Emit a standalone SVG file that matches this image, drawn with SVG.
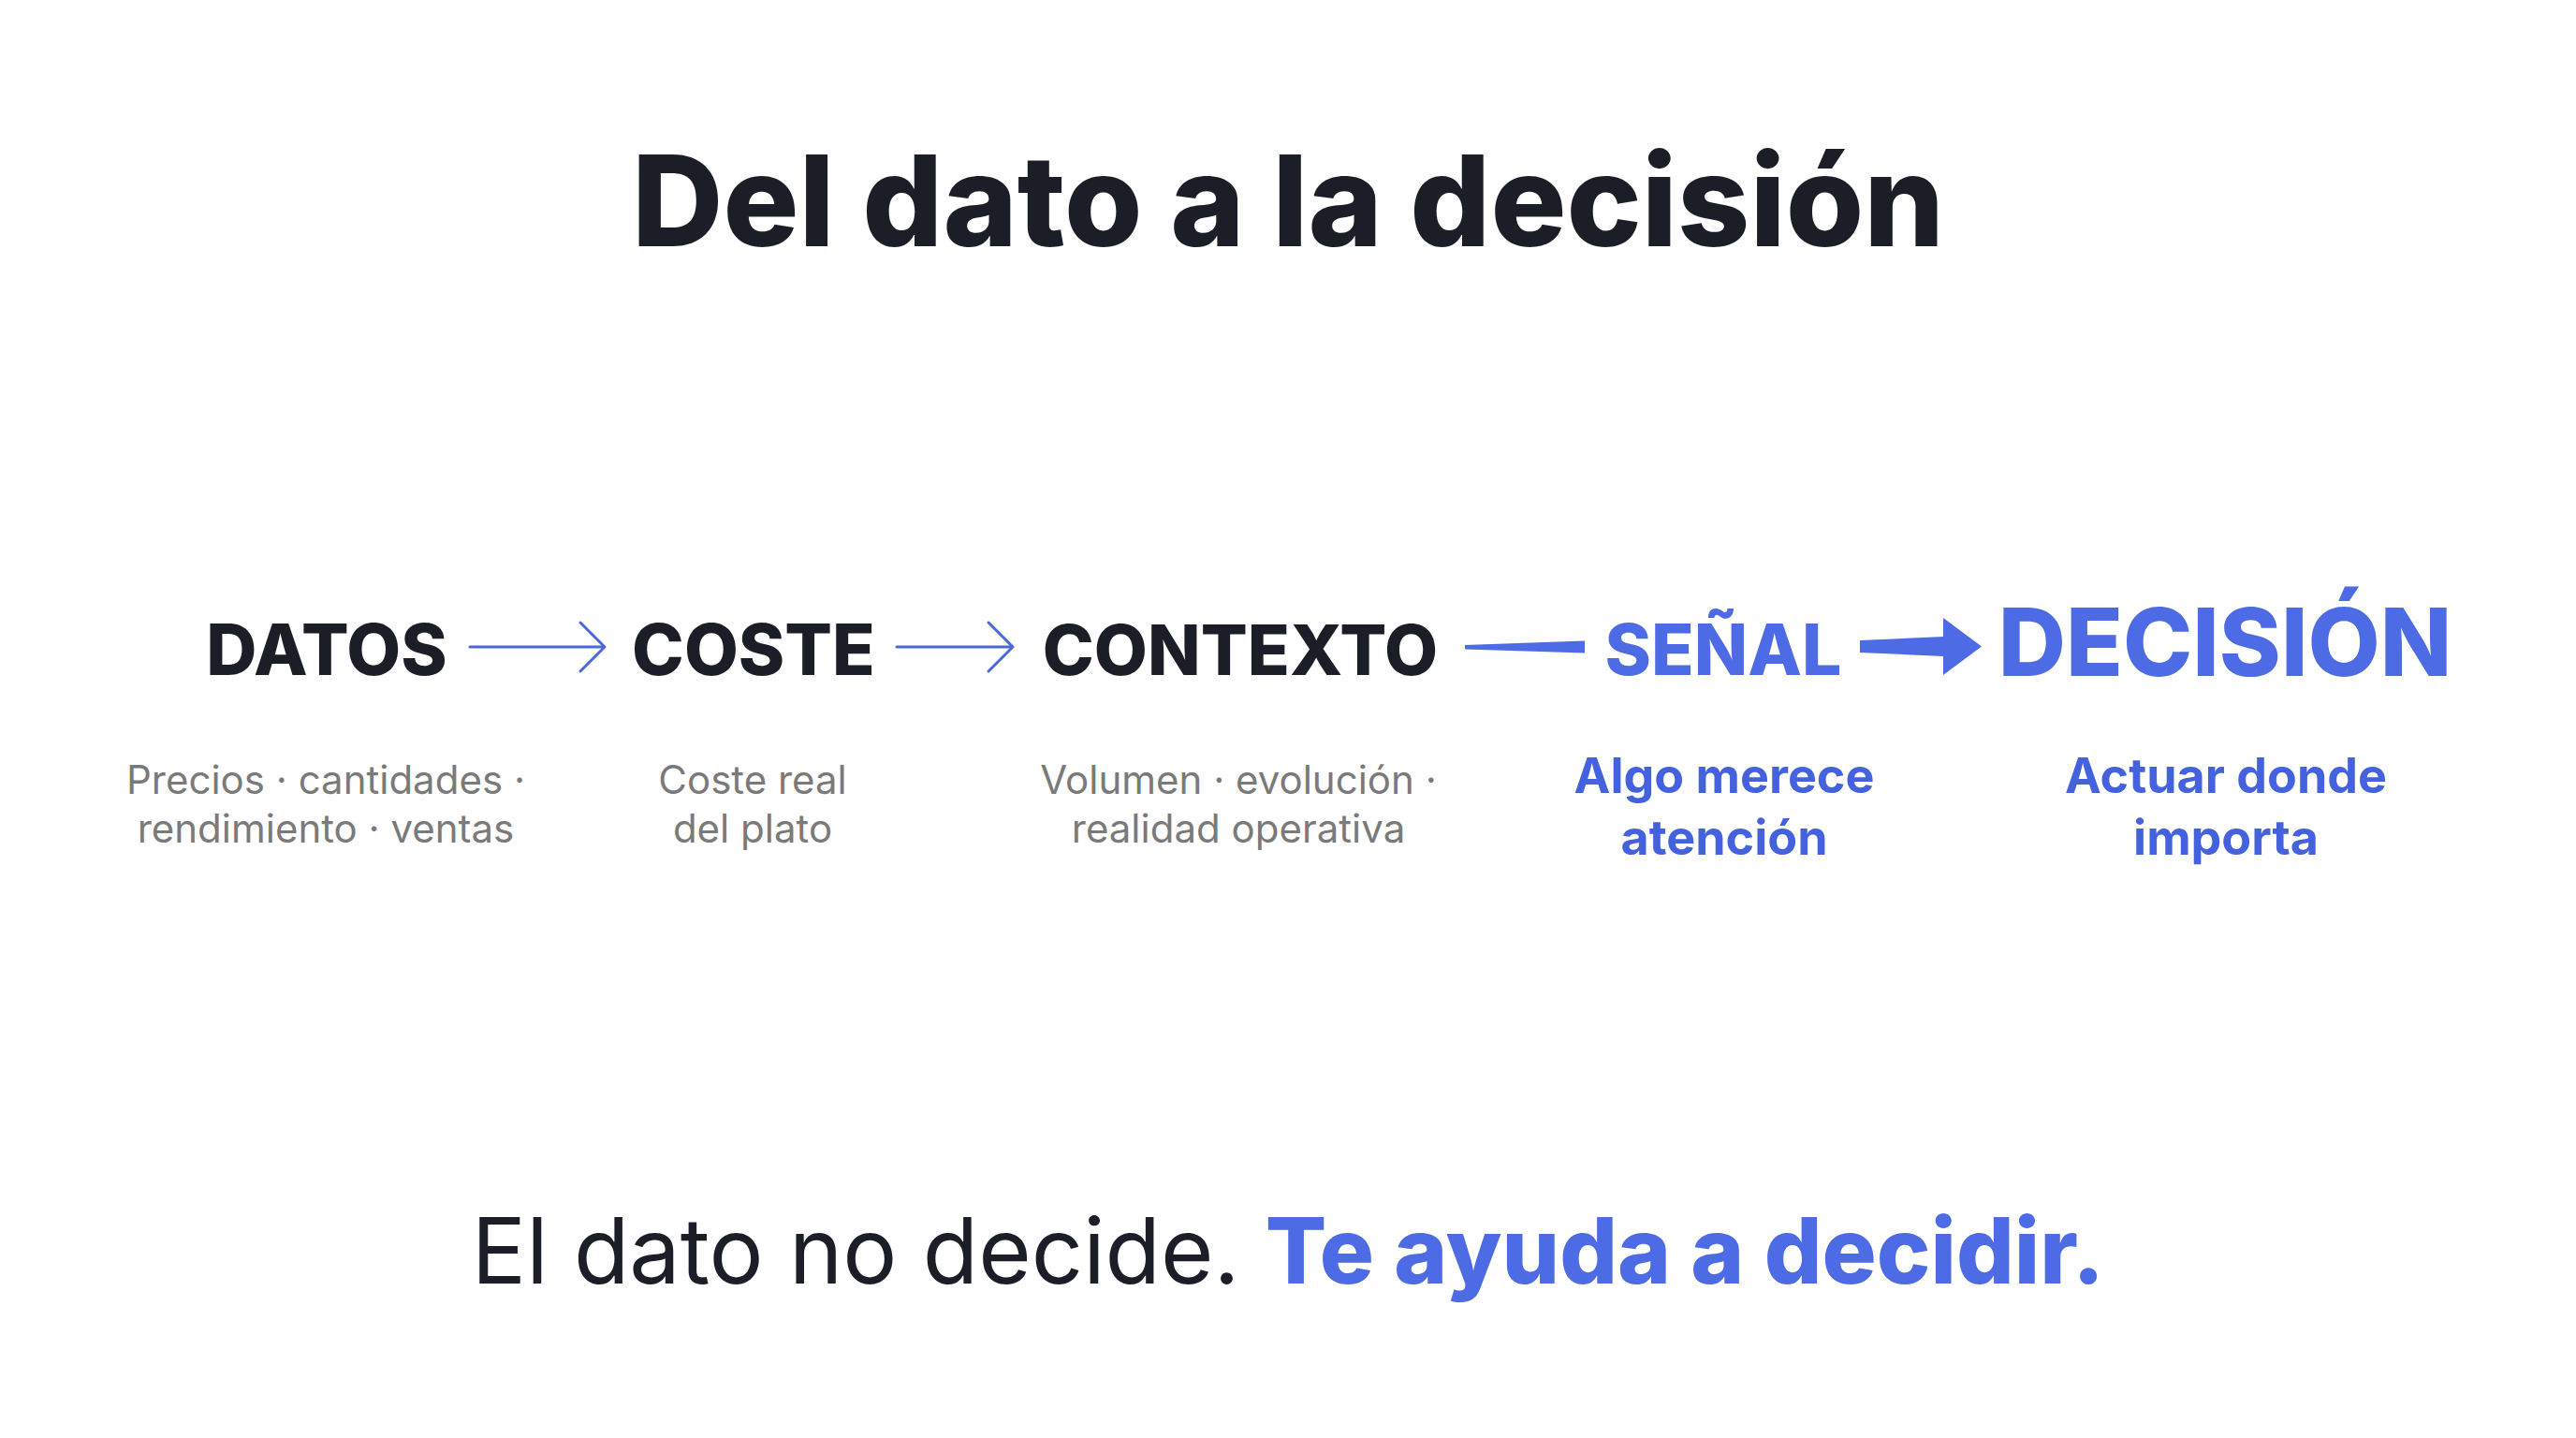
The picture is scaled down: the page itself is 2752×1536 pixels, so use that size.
<svg xmlns="http://www.w3.org/2000/svg" width="2752" height="1536" viewBox="0 0 2752 1536">
<style>
.t{font-family:Inter,"Noto Sans","Liberation Sans",sans-serif;text-anchor:middle}
.dark{fill:#1b1e27}
.blue{fill:#4d6be4}
.head{font-size:75px;font-weight:800}
.sub{font-size:42px;font-weight:400;fill:#7a7a7a}
.bsub{font-size:52px;font-weight:700;fill:#4462de}
.conn{stroke:#4a68d8;stroke-width:3;fill:none;stroke-linecap:round;stroke-linejoin:round}
</style>
<rect width="2752" height="1536" fill="#ffffff"/>
<g id="title"><text class="t dark" x="1376" y="263" font-size="135" font-weight="800">Del dato a la decisión</text></g>
<g id="connectors">
<line class="conn" x1="502" y1="691" x2="645" y2="691"/>
<polyline class="conn" points="620,665 646,691 620,717"/>
<line class="conn" x1="958" y1="691" x2="1081" y2="691"/>
<polyline class="conn" points="1056,665 1082,691 1056,717"/>
<polygon fill="#4d6be4" points="1565,689 1693,684.5 1693,697.5 1565,693.5"/>
<polygon fill="#4d6be4" points="1987,684 2076,680 2076,660 2117,690.5 2076,721 2076,701 1987,697"/>
</g>
<g id="datos">
<text class="t dark head" x="349" y="721">DATOS</text>
<text class="t sub" x="348" y="848">Precios · cantidades ·</text>
<text class="t sub" x="348" y="900">rendimiento · ventas</text>
</g>
<g id="coste">
<text class="t dark head" x="805" y="721">COSTE</text>
<text class="t sub" x="804" y="848">Coste real</text>
<text class="t sub" x="804" y="900">del plato</text>
</g>
<g id="contexto">
<text class="t dark" x="1325" y="721" font-size="74" font-weight="800">CONTEXTO</text>
<text class="t sub" x="1323" y="848">Volumen · evolución ·</text>
<text class="t sub" x="1323" y="900">realidad operativa</text>
</g>
<g id="senal">
<text class="t blue head" x="1841" y="721">SEÑAL</text>
<text class="t bsub" x="1842" y="847">Algo merece</text>
<text class="t bsub" x="1842" y="913">atención</text>
</g>
<g id="decision">
<text class="t blue" x="2377" y="722" font-size="100" font-weight="800">DECISIÓN</text>
<text class="t bsub" x="2378" y="847">Actuar donde</text>
<text class="t bsub" x="2378" y="913">importa</text>
</g>
<g id="footer">
<text class="t" x="1376" y="1371" font-size="97"><tspan class="dark" font-weight="400">El dato no decide. </tspan><tspan class="blue" font-weight="800">Te ayuda a decidir.</tspan></text>
</g>
</svg>
